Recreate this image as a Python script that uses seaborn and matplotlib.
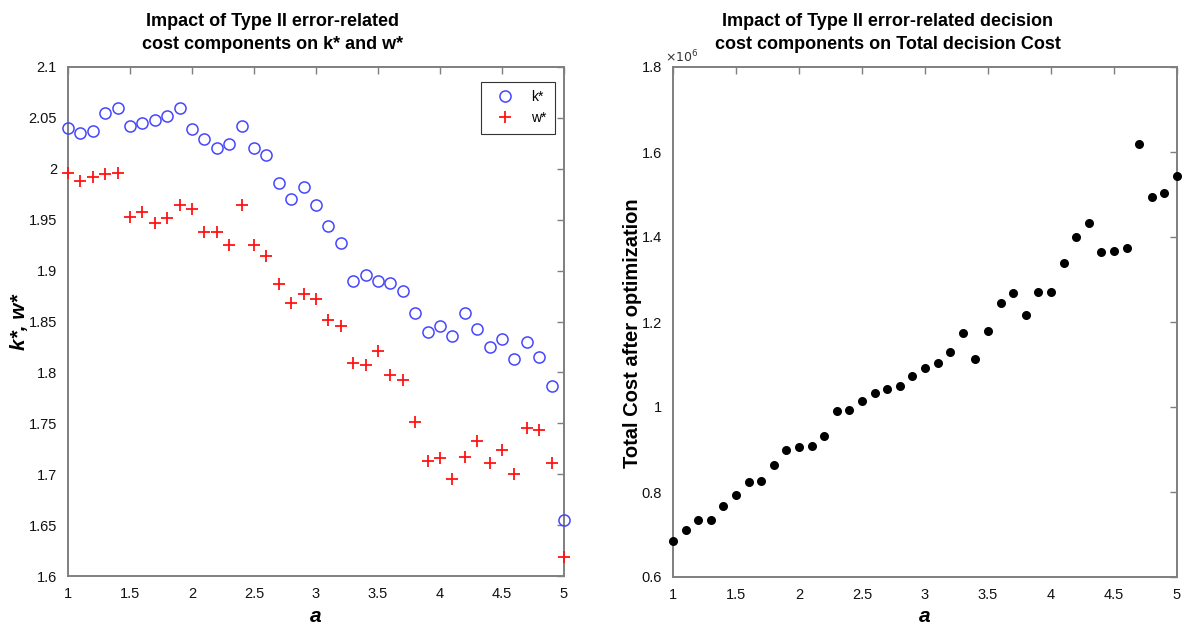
import matplotlib
matplotlib.use("Agg")
import matplotlib.pyplot as plt
import pandas as pd
import seaborn as sns
from matplotlib.ticker import FuncFormatter, MultipleLocator

# Parameter a (x axis of both panels)
a_values = [1.0, 1.1, 1.2, 1.3, 1.4, 1.5, 1.6, 1.7, 1.8, 1.9,
            2.0, 2.1, 2.2, 2.3, 2.4, 2.5, 2.6, 2.7, 2.8, 2.9,
            3.0, 3.1, 3.2, 3.3, 3.4, 3.5, 3.6, 3.7, 3.8, 3.9,
            4.0, 4.1, 4.2, 4.3, 4.4, 4.5, 4.6, 4.7, 4.8, 4.9, 5.0]

# Optimal k*
k_star = [2.040, 2.035, 2.037, 2.055, 2.060, 2.042, 2.045, 2.048, 2.052, 2.060,
          2.039, 2.029, 2.020, 2.024, 2.042, 2.020, 2.014, 1.986, 1.970, 1.982,
          1.964, 1.944, 1.927, 1.890, 1.896, 1.890, 1.888, 1.880, 1.858, 1.840,
          1.846, 1.836, 1.858, 1.843, 1.825, 1.833, 1.813, 1.830, 1.815, 1.787, 1.655]

# Optimal w*
w_star = [1.996, 1.988, 1.992, 1.995, 1.996, 1.953, 1.958, 1.947, 1.952, 1.964,
          1.961, 1.938, 1.938, 1.925, 1.964, 1.925, 1.914, 1.887, 1.868, 1.877,
          1.872, 1.851, 1.846, 1.809, 1.807, 1.821, 1.797, 1.793, 1.751, 1.713,
          1.716, 1.695, 1.717, 1.733, 1.711, 1.724, 1.700, 1.745, 1.743, 1.711, 1.619]

# Total decision cost after optimization
total_cost = [684000, 710000, 734000, 734000, 767000, 792000, 823000, 825000, 864000, 900000,
              905000, 908000, 931000, 991000, 994000, 1013000, 1033000, 1042000, 1050000, 1072000,
              1092000, 1103000, 1130000, 1175000, 1114000, 1178000, 1244000, 1269000, 1216000, 1271000,
              1271000, 1340000, 1399000, 1432000, 1365000, 1368000, 1374000, 1620000, 1493000, 1504000, 1543000]

x_ticks = [1, 1.5, 2, 2.5, 3, 3.5, 4, 4.5, 5]

df = pd.DataFrame({"a": a_values, "k": k_star, "w": w_star, "cost": total_cost})

sns.set_style("white")
plt.rcParams["font.family"] = ["Liberation Sans", "DejaVu Sans"]
plt.rcParams["axes.edgecolor"] = "#7f7f7f"
plt.rcParams["axes.linewidth"] = 1.4
plt.rcParams["text.color"] = "black"

fig = plt.figure(figsize=(11.82, 6.31), dpi=100)
ax1 = fig.add_axes([68 / 1182, 1 - 576 / 631, 496 / 1182, 509 / 631])
ax2 = fig.add_axes([673 / 1182, 1 - 577 / 631, 504 / 1182, 510 / 631])

BLUE = "#4646ff"
RED = "#ff1414"

# Left panel: k* and w*
sns.lineplot(data=df, x="a", y="k", ax=ax1, linestyle="", marker="o", markersize=8,
             markerfacecolor="none", markeredgecolor=BLUE, markeredgewidth=1.1,
             color=BLUE, label="k*", clip_on=False, zorder=4)
sns.lineplot(data=df, x="a", y="w", ax=ax1, linestyle="", marker="+", markersize=9,
             markeredgewidth=1.3, markeredgecolor=RED, markerfacecolor=RED,
             color=RED, label="w*", clip_on=False, zorder=4)

ax1.set_xlim(1, 5)
ax1.set_ylim(1.6, 2.1)
ax1.set_xticks(x_ticks)
ax1.yaxis.set_major_locator(MultipleLocator(0.05))
ax1.xaxis.set_major_formatter(FuncFormatter(lambda v, p: f"{v:g}"))
ax1.yaxis.set_major_formatter(FuncFormatter(lambda v, p: f"{round(v, 2):g}"))

# Right panel: total cost
sns.lineplot(data=df, x="a", y="cost", ax=ax2, linestyle="", marker="o", markersize=6.5,
             markeredgewidth=0, color="black", clip_on=False, zorder=4)
ax2.set_xlim(1, 5)
ax2.set_ylim(0.6e6, 1.8e6)
ax2.set_xticks(x_ticks)
ax2.yaxis.set_major_locator(MultipleLocator(0.2e6))
ax2.xaxis.set_major_formatter(FuncFormatter(lambda v, p: f"{v:g}"))
ax2.yaxis.set_major_formatter(FuncFormatter(lambda v, p: f"{round(v / 1e6, 2):g}"))
ax2.text(-0.016, 1.004, r"$\times10^{6}$", transform=ax2.transAxes, fontsize=9,
         ha="left", va="bottom", color="#333333")

for ax in (ax1, ax2):
    ax.tick_params(direction="in", top=True, right=True, length=5, width=1,
                   color="#7f7f7f", labelsize=10.5, labelcolor="#111111", pad=8)
    for s in ax.spines.values():
        s.set_visible(True)
    ax.set_xlabel("")
    ax.set_ylabel("")

leg = ax1.legend(loc="upper right", bbox_to_anchor=(0.982, 0.9705), borderaxespad=0,
                 frameon=True, fancybox=False, edgecolor="black", fontsize=10,
                 handlelength=2.2, borderpad=0.6, labelspacing=0.5)
leg.get_frame().set_linewidth(0.8)
for t in leg.get_texts():
    t.set_color("black")

# Titles
fig.text(273 / 1182, 1 - 33 / 631, "Impact of Type II error-related\ncost components on k* and w*",
         ha="center", va="center", fontsize=13, fontweight="bold", linespacing=1.45)
fig.text(888 / 1182, 1 - 33 / 631,
         "Impact of Type II error-related decision\ncost components on Total decision Cost",
         ha="center", va="center", fontsize=13, fontweight="bold", linespacing=1.45)

# Axis labels
fig.text(316 / 1182, 1 - 617 / 631, "a", ha="center", va="center", fontsize=15,
         fontweight="bold", fontstyle="italic")
fig.text(925 / 1182, 1 - 617 / 631, "a", ha="center", va="center", fontsize=15,
         fontweight="bold", fontstyle="italic")
fig.text(20 / 1182, 1 - 322 / 631, "k*, w*", ha="center", va="center", fontsize=15,
         fontweight="bold", fontstyle="italic", rotation=90)
fig.text(632 / 1182, 1 - 333 / 631, "Total Cost after optimization", ha="center", va="center",
         fontsize=14.5, fontweight="bold", rotation=90)

fig.savefig("out.png", dpi=100, facecolor="white")
